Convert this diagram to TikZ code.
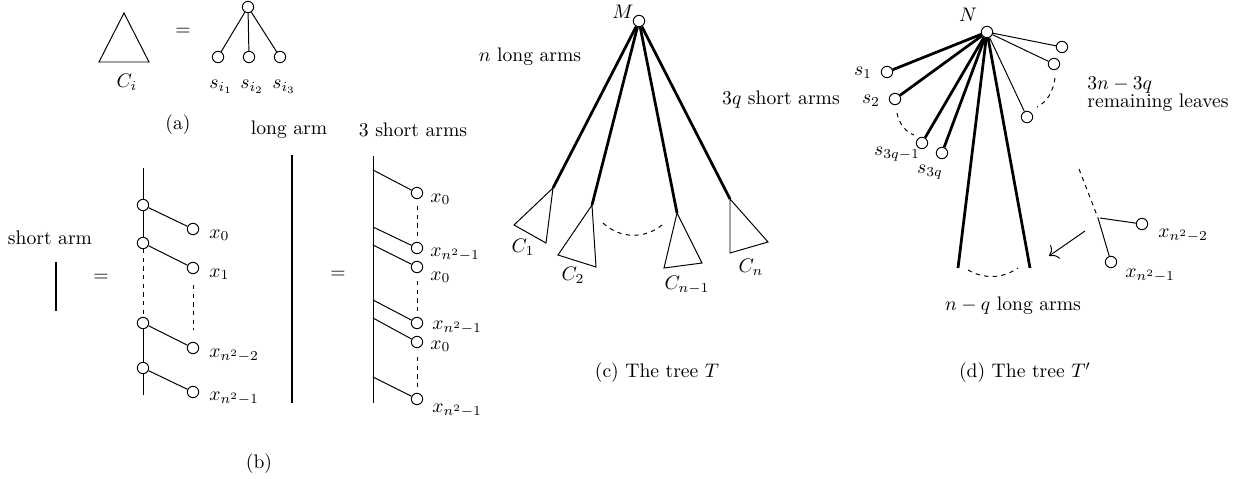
\documentclass[tikz,border=0pt]{standalone}
\usetikzlibrary{arrows.meta}
\begin{document}
\begin{tikzpicture}[x=0.51pt,y=-0.51pt,
  vtx/.style={circle,draw,fill=white,minimum size=5.8pt,inner sep=0pt,line width=0.5pt},
  ln/.style={line width=0.5pt},
  tk/.style={line width=1.4pt},
  dsh/.style={line width=0.5pt,dash pattern=on 2.2pt off 2.2pt},
  lbl/.style={inner sep=0pt}]
\useasboundingbox (0,0) rectangle (1241,478);
% ---------- (a)
\coordinate (ca) at (124,13);
\coordinate (cb) at (99,62);
\coordinate (cc) at (149,62);
\draw[ln] (ca) -- (cb) -- (cc) -- cycle;
\node[lbl] (ci) at (127,82) {$C_i$};
\node[lbl] (eqa) at (183,32) {$=$};
\node[vtx] (ra) at (248,7) {};
\node[vtx] (la1) at (218,57) {};
\node[vtx] (la2) at (249,57) {};
\node[vtx] (la3) at (280,57) {};
\draw[ln] (ra) -- (la1);
\draw[ln] (ra) -- (la2);
\draw[ln] (ra) -- (la3);
\node[lbl] (sa1) at (221,87) {$s_{i_1}$};
\node[lbl] (sa2) at (252,87) {$s_{i_2}$};
\node[lbl] (sa3) at (284,87) {$s_{i_3}$};
\node[lbl] (capa) at (178,125) {(a)};
% ---------- (b) short arm
\node[lbl] (sat) at (50,238) {short arm};
\coordinate (sb1) at (56,262);
\coordinate (sb2) at (56,311);
\draw[tk] (sb1) -- (sb2);
\node[lbl] (eqb) at (101,278) {$=$};
\coordinate (sp0) at (143,168);
\coordinate (sp5) at (143,395);
\node[vtx] (p1) at (143,205) {};
\node[vtx] (p2) at (143,243) {};
\node[vtx] (p3) at (143,323) {};
\node[vtx] (p4) at (143,368) {};
\draw[ln] (sp0) -- (p1);
\draw[ln] (p1) -- (p2);
\draw[dsh] (p2) -- (p3);
\draw[ln] (p3) -- (p4);
\draw[ln] (p4) -- (sp5);
\node[vtx] (q1) at (193,229) {};
\node[vtx] (q2) at (193,268) {};
\node[vtx] (q3) at (193,348) {};
\node[vtx] (q4) at (193,392) {};
\draw[ln] (p1) -- (q1);
\draw[ln] (p2) -- (q2);
\draw[ln] (p3) -- (q3);
\draw[ln] (p4) -- (q4);
\coordinate (qd1) at (193,285);
\coordinate (qd2) at (193,330);
\draw[dsh] (qd1) -- (qd2);
\node[lbl,anchor=base west] (xq1) at (209,238) {$x_0$};
\node[lbl,anchor=base west] (xq2) at (209,277) {$x_1$};
\node[lbl,anchor=base west] (xq3) at (209,357) {$x_{n^2-2}$};
\node[lbl,anchor=base west] (xq4) at (209,400) {$x_{n^2-1}$};
% ---------- long arm
\node[lbl] (lat) at (289,130) {long arm};
\coordinate (lb1) at (292,155);
\coordinate (lb2) at (292,403);
\draw[tk] (lb1) -- (lb2);
\node[lbl] (eqc) at (338,275) {$=$};
\node[lbl] (tsa) at (413,130) {3 short arms};
\coordinate (sq0) at (373,156);
\coordinate (sq1) at (373,403);
\draw[ln] (sq0) -- (sq1);
\coordinate (b1) at (373,170);
\coordinate (b2) at (373,227);
\coordinate (b3) at (373,245);
\coordinate (b4) at (373,300);
\coordinate (b5) at (373,318);
\coordinate (b6) at (373,377);
\node[vtx] (u1) at (417,193) {};
\node[vtx] (u2) at (417,248) {};
\node[vtx] (u3) at (417,267) {};
\node[vtx] (u4) at (417,323) {};
\node[vtx] (u5) at (417,342) {};
\node[vtx] (u6) at (417,399) {};
\draw[ln] (b1) -- (u1);
\draw[ln] (b2) -- (u2);
\draw[ln] (b3) -- (u3);
\draw[ln] (b4) -- (u4);
\draw[ln] (b5) -- (u5);
\draw[ln] (b6) -- (u6);
\coordinate (ud1) at (417,206);
\coordinate (ud2) at (417,240);
\coordinate (ud3) at (417,281);
\coordinate (ud4) at (417,314);
\coordinate (ud5) at (417,357);
\coordinate (ud6) at (417,390);
\draw[dsh] (ud1) -- (ud2);
\draw[dsh] (ud3) -- (ud4);
\draw[dsh] (ud5) -- (ud6);
\node[lbl,anchor=base west] (xu1) at (430,202) {$x_0$};
\node[lbl,anchor=base west] (xu2) at (430,256) {$x_{n^2-1}$};
\node[lbl,anchor=base west] (xu3) at (430,280) {$x_0$};
\node[lbl,anchor=base west] (xu4) at (432,329) {$x_{n^2-1}$};
\node[lbl,anchor=base west] (xu5) at (430,349) {$x_0$};
\node[lbl,anchor=base west] (xu6) at (432,412) {$x_{n^2-1}$};
\node[lbl] (capb) at (259,464) {(b)};
% ---------- (c)
\node[vtx] (M) at (639,21) {};
\node[lbl] (Ml) at (623,12) {$M$};
\node[lbl] (nla) at (530,57) {$n$ long arms};
\coordinate (t1) at (553,188);
\coordinate (t2) at (592,205);
\coordinate (t3) at (677,213);
\coordinate (t4) at (730,199);
\draw[tk] (M) -- (t1);
\draw[tk] (M) -- (t2);
\draw[tk] (M) -- (t3);
\draw[tk] (M) -- (t4);
\draw[ln] (t1) -- (514,225) -- (546,243) -- cycle;
\draw[ln] (t2) -- (558,255) -- (596,267) -- cycle;
\draw[ln] (t3) -- (664,268) -- (702,263) -- cycle;
\draw[ln] (t4) -- (730,253) -- (768,242) -- cycle;
\node[lbl] (C1) at (523,247) {$C_1$};
\node[lbl] (C2) at (573,275) {$C_2$};
\node[lbl] (C3) at (687,285) {$C_{n-1}$};
\node[lbl] (C4) at (751,267) {$C_n$};
\coordinate (ac1) at (603,223);
\coordinate (ac2) at (662,225);
\draw[dsh] (ac1) .. controls (620,239) and (645,239) .. (ac2);
\node[lbl] (capc) at (657,373) {(c) The tree $T$};
% ---------- (d)
\node[lbl] (tqs) at (781,100) {$3q$ short arms};
\node[vtx] (N) at (987,32) {};
\node[lbl] (Nl) at (968,15) {$N$};
\node[vtx] (s1) at (887,72) {};
\node[vtx] (s2) at (895,99) {};
\node[vtx] (s3) at (922,143) {};
\node[vtx] (s4) at (942,153) {};
\draw[tk] (N) -- (s1);
\draw[tk] (N) -- (s2);
\draw[tk] (N) -- (s3);
\draw[tk] (N) -- (s4);
\node[lbl] (s1l) at (863,73) {$s_1$};
\node[lbl] (s2l) at (871,101) {$s_2$};
\node[lbl] (s3l) at (897,154) {$s_{3q-1}$};
\node[lbl] (s4l) at (930,172) {$s_{3q}$};
\coordinate (sd1) at (897,113);
\coordinate (sd2) at (914,135);
\draw[dsh] (sd1) .. controls (899,124) and (906,132) .. (sd2);
\coordinate (e1) at (958,268);
\coordinate (e2) at (1030,268);
\draw[tk] (N) -- (e1);
\draw[tk] (N) -- (e2);
\coordinate (ed1) at (968,270);
\coordinate (ed2) at (1018,268);
\draw[dsh] (ed1) .. controls (984,279) and (1002,279) .. (ed2);
\node[lbl] (nql) at (1013,306) {$n-q$ long arms};
\node[vtx] (r1) at (1062,47) {};
\node[vtx] (r2) at (1054,64) {};
\node[vtx] (r3) at (1027,117) {};
\draw[ln] (N) -- (r1);
\draw[ln] (N) -- (r2);
\draw[ln] (N) -- (r3);
\coordinate (rd1) at (1055,78);
\coordinate (rd2) at (1037,107);
\draw[dsh] (rd1) .. controls (1053,92) and (1047,102) .. (rd2);
\node[lbl,anchor=base west] (rl1) at (1087,89) {$3n-3q$};
\node[lbl,anchor=base west] (rl2) at (1087,107) {remaining leaves};
\coordinate (z0) at (1079,169);
\coordinate (z1) at (1098,218);
\coordinate (z2) at (1100,218);
\draw[dsh] (z0) -- (z1);
\node[vtx] (w1) at (1142,224) {};
\node[vtx] (w2) at (1111,262) {};
\draw[ln] (z1) -- (w2);
\draw[ln] (z2) -- (w1);
\node[lbl,anchor=base west] (wl1) at (1158,237) {$x_{n^2-2}$};
\node[lbl,anchor=base west] (wl2) at (1125,277) {$x_{n^2-1}$};
\coordinate (ar1) at (1085,231);
\coordinate (ar2) at (1049,256);
\draw[ln,-{To[length=4pt]}] (ar1) -- (ar2);
\node[lbl] (capd) at (1025,373) {(d) The tree $T'$};
\end{tikzpicture}
\end{document}
